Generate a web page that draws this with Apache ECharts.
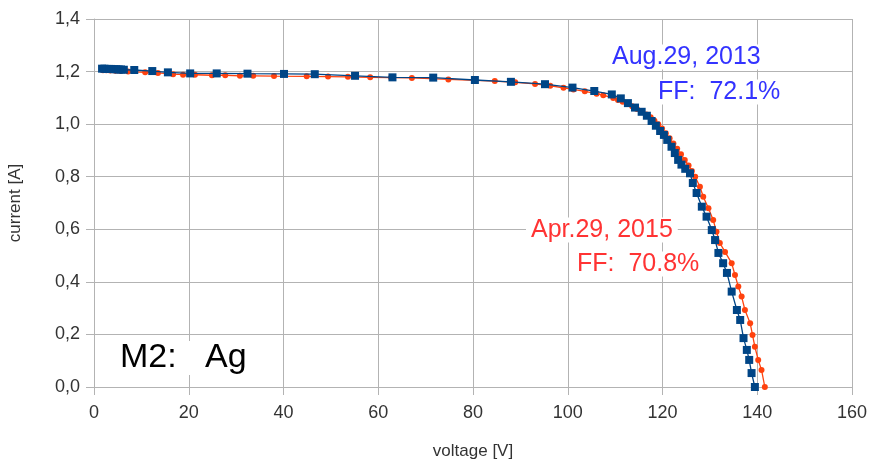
<!DOCTYPE html>
<html>
<head>
<meta charset="utf-8">
<script src="https://cdn.jsdelivr.net/npm/echarts@6/dist/echarts.min.js"></script>
<style>
  html, body { margin: 0; padding: 0; background: #fff; }
  #chart { width: 871px; height: 465px; }
</style>
</head>
<body>
<div id="chart"></div>
<script>
// Aug.29, 2013 (blue squares)
const blueV = [1.7, 2.2, 2.7, 3.2, 3.7, 4.2, 4.7, 5.2, 5.7, 6.3, 8.5, 12.3, 15.6, 20.3, 25.9, 32.4, 40.1, 46.6, 55.1, 63.0, 71.6, 80.4, 88.0, 95.2, 101.0, 105.6, 109.3, 111.2, 112.7, 114.2, 115.6, 116.7, 117.7, 118.6, 119.5, 120.3, 121.0, 121.9, 122.6, 123.3, 124.0, 124.8, 125.8, 126.4, 127.2, 128.3, 129.3, 130.4, 131.1, 131.8, 132.8, 133.6, 134.6, 135.7, 136.4, 137.1, 137.8, 138.3, 138.8, 139.5]
const blueI = [1.211, 1.211, 1.21, 1.21, 1.21, 1.209, 1.209, 1.208, 1.208, 1.207, 1.206, 1.202, 1.197, 1.193, 1.193, 1.192, 1.191, 1.19, 1.184, 1.178, 1.177, 1.168, 1.161, 1.152, 1.139, 1.126, 1.113, 1.098, 1.080, 1.063, 1.047, 1.032, 1.012, 0.994, 0.974, 0.959, 0.940, 0.914, 0.890, 0.864, 0.846, 0.830, 0.813, 0.776, 0.738, 0.686, 0.648, 0.597, 0.559, 0.510, 0.471, 0.434, 0.363, 0.293, 0.255, 0.186, 0.141, 0.103, 0.053, 0.0]

// Apr.29, 2015 (orange circles)
const orangeV = [1.9, 2.6, 3.4, 4.5, 5.6, 7.2, 10.8, 13.5, 16.7, 18.8, 21.3, 24.9, 27.7, 30.8, 33.6, 38.0, 44.9, 49.4, 53.6, 58.3, 62.7, 67.1, 74.8, 84.6, 88.9, 93.1, 96.3, 99.1, 101.2, 103.6, 106.1, 107.5, 109.6, 110.6, 111.6, 112.6, 113.6, 114.6, 115.6, 116.6, 117.5, 118.3, 119.1, 119.9, 120.7, 121.5, 122.3, 123.1, 123.9, 124.7, 125.5, 126.2, 126.9, 127.9, 128.6, 129.7, 130.7, 131.4, 132.1, 133.2, 134.6, 135.3, 136.0, 136.7, 137.4, 138.5, 139.0, 139.5, 140.2, 140.9, 141.6]
const orangeI = [1.205, 1.205, 1.204, 1.203, 1.202, 1.2, 1.197, 1.195, 1.19, 1.188, 1.188, 1.186, 1.186, 1.184, 1.184, 1.183, 1.182, 1.181, 1.18, 1.178, 1.177, 1.176, 1.17, 1.164, 1.159, 1.153, 1.146, 1.138, 1.132, 1.125, 1.116, 1.11, 1.099, 1.092, 1.085, 1.077, 1.068, 1.058, 1.048, 1.037, 1.026, 1.013, 1.0, 0.983, 0.965, 0.946, 0.926, 0.906, 0.885, 0.864, 0.843, 0.822, 0.80, 0.762, 0.724, 0.680, 0.635, 0.591, 0.548, 0.514, 0.471, 0.426, 0.382, 0.344, 0.293, 0.243, 0.198, 0.153, 0.103, 0.065, 0.0]

const xTicks = { min: 0, max: 160, interval: 20 }
const yTicks = { min: 0, max: 1.4, interval: 0.2 }

const gridColor = '#b3b3b3'
const textColor = '#333333'
const font = '"Liberation Sans", Arial, sans-serif'

let mychart = echarts.init(document.getElementById('chart'))
let option = {
  animation: false,
  backgroundColor: '#fff',
  grid: { left: 94, right: 19, top: 19, bottom: 78, outerBoundsMode: 'none' },
  xAxis: {
    type: 'value',
    min: xTicks.min,
    max: xTicks.max,
    interval: xTicks.interval,
    name: 'voltage [V]',
    nameLocation: 'middle',
    nameGap: 56,
    nameTextStyle: { color: textColor, fontSize: 17, fontFamily: font },
    axisLine: { lineStyle: { color: gridColor } },
    axisTick: { show: true, length: 8, lineStyle: { color: gridColor } },
    axisLabel: { color: textColor, fontSize: 18, fontFamily: font, margin: 17 },
    splitLine: { show: true, lineStyle: { color: gridColor } },
  },
  yAxis: {
    type: 'value',
    min: yTicks.min,
    max: yTicks.max,
    interval: yTicks.interval,
    name: 'current [A]',
    nameLocation: 'middle',
    nameGap: 70,
    nameRotate: 90,
    nameTextStyle: { color: textColor, fontSize: 17, fontFamily: font },
    axisLine: { show: true, lineStyle: { color: gridColor } },
    axisTick: { show: true, length: 8, lineStyle: { color: gridColor } },
    axisLabel: {
      color: textColor, fontSize: 18, fontFamily: font, margin: 14,
      formatter: (v) => v.toFixed(1).replace('.', ','),
    },
    splitLine: { show: true, lineStyle: { color: gridColor } },
  },
  series: [
    {
      name: 'Apr.29, 2015',
      type: 'line',
      data: orangeV.map((v, i) => [v, orangeI[i]]),
      symbol: 'circle',
      symbolSize: 6,
      clip: false,
      z: 2,
      lineStyle: { color: '#ff420e', width: 1.3 },
      itemStyle: { color: '#ff420e' },
    },
    {
      name: 'Aug.29, 2013',
      type: 'line',
      data: blueV.map((v, i) => [v, blueI[i]]),
      symbol: 'rect',
      symbolSize: 8,
      clip: false,
      z: 3,
      lineStyle: { color: '#004586', width: 1.3 },
      itemStyle: { color: '#004586' },
    },
  ],
  graphic: [
    {
      type: 'text', x: 607, y: 57, z: 10,
      style: { text: 'Aug.29, 2013', fill: '#3333ff', font: '25px ' + font, verticalAlign: 'middle', backgroundColor: '#fff', padding: [0, 5] },
    },
    {
      type: 'text', x: 654, y: 92, z: 10,
      style: { text: 'FF:  72.1%', fill: '#3333ff', font: '25px ' + font, verticalAlign: 'middle', backgroundColor: '#fff', padding: [0, 4] },
    },
    {
      type: 'text', x: 526, y: 230, z: 10,
      style: { text: 'Apr.29, 2015', fill: '#ff3333', font: '25px ' + font, verticalAlign: 'middle', backgroundColor: '#fff', padding: [0, 5] },
    },
    {
      type: 'text', x: 573, y: 264, z: 10,
      style: { text: 'FF:  70.8%', fill: '#ff3333', font: '25px ' + font, verticalAlign: 'middle', backgroundColor: '#fff', padding: [0, 4] },
    },
    {
      type: 'text', x: 116, y: 358, z: 10,
      style: { text: 'M2:   Ag', fill: '#000', font: '34px ' + font, verticalAlign: 'middle', backgroundColor: '#fff', padding: [0, 4] },
    },
  ],
}
mychart.setOption(option)
</script>
</body>
</html>
